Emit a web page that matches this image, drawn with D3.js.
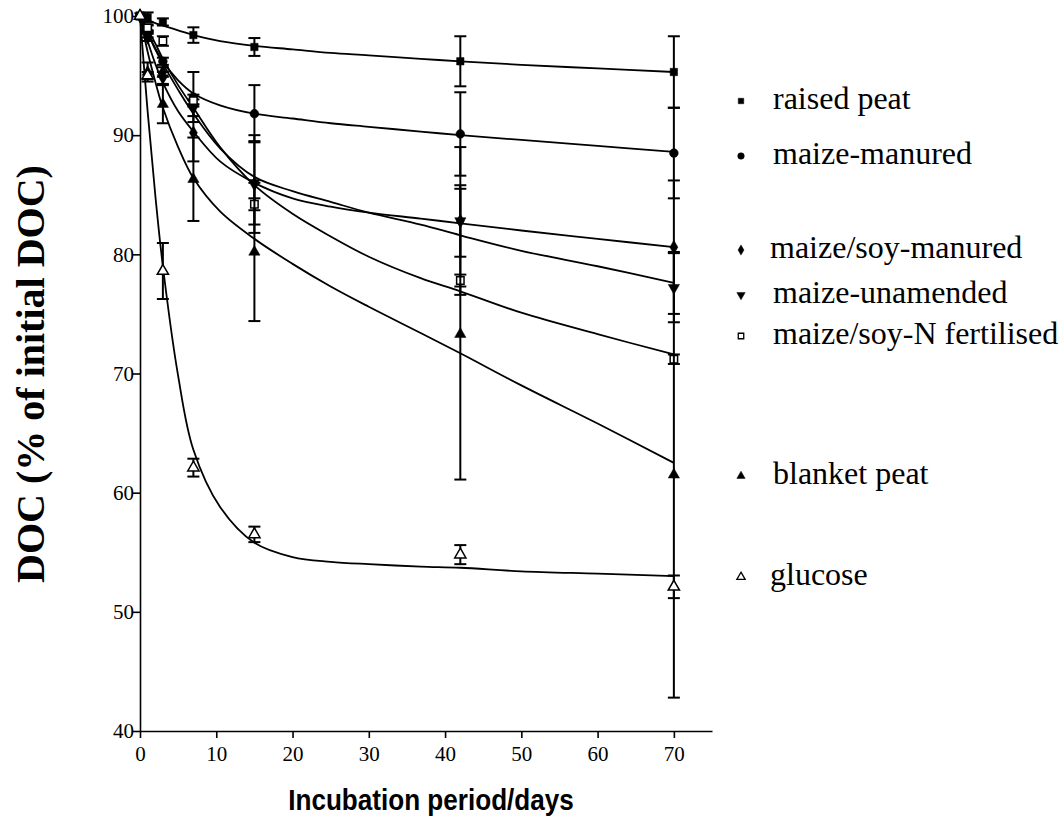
<!DOCTYPE html>
<meta charset="utf-8">
<html>
<head>
<script src="https://d3js.org/d3.v7.min.js"></script>
<style>
  body { margin: 0; background: #fff; }
  text { fill: #000; }
  .serif { font-family: "Liberation Serif", "Times New Roman", Times, serif; }
  .sans { font-family: "Liberation Sans", Arial, Helvetica, sans-serif; }
</style>
</head>
<body>
<svg id="chart" width="1064" height="826"></svg>
<script>
// sampling days
var days = [0, 1, 3, 7, 15, 42, 70];

// measured DOC (% of initial) and error (+/-) per soil
var raisedPeat      = [100, 99.9, 99.5, 98.4, 97.4, 96.2, 95.3];
var raisedPeatErr   = [0, 0.4, 0.3, 0.65, 0.75, 2.1, 3.0];
var maizeManured    = [100, 98.9, 96.2, 93.2, 91.8, 90.1, 88.5];
var maizeManuredErr = [0, 0.3, 0.3, 2.1, 2.4, 3.5, 3.8];
var soyManured      = [100, 98.2, 95.3, 90.2, 85.9, 82.8, 80.6];
var soyManuredErr   = [0, 0.3, 0.4, 2.4, 4.1, 3.0, 5.6];
var maizeUnamended  = [100, 98.5, 94.8, 92.3, 86.0, 82.8, 77.2];
var maizeUnamendedErr = [0, 0.3, 0.5, 0.7, 3.5, 6.2, 2.9];
var soyNFert        = [100, 99.0, 97.9, 92.9, 84.2, 77.8, 71.2];
var soyNFertErr     = [0, 0.3, 0.4, 0.5, 0.5, 0.5, 0.4];
var blanketPeat     = [100, 95.3, 92.6, 86.3, 80.2, 73.3, 61.5];
var blanketPeatErr  = [0, 0.8, 1.6, 3.5, 5.8, 12.2, 18.7];
var glucose         = [100, 95.0, 78.6, 62.1, 56.5, 54.8, 52.1];
var glucoseErr      = [0, 0.3, 2.35, 0.75, 0.65, 0.8, 0.95];

// fitted curves
var fitDays = [0, 1, 2, 3, 5, 7, 10.5, 15, 20, 25, 30, 36.8, 42, 50, 60, 70];
var raisedPeatFit     = [100, 99.7, 99.4, 99.2, 98.8, 98.4, 97.9, 97.5, 97.2, 96.9, 96.7, 96.4, 96.2, 95.9, 95.6, 95.3];
var maizeManuredFit   = [100, 98.6, 97.3, 96.2, 94.6, 93.5, 92.5, 91.8, 91.4, 91.0, 90.7, 90.3, 90.0, 89.6, 89.1, 88.6];
var soyManuredFit     = [100, 97.9, 96.0, 94.4, 92.0, 90.3, 87.8, 86.0, 84.7, 84.0, 83.5, 83.0, 82.6, 82.0, 81.3, 80.6];
var maizeUnamendedFit = [100, 98.6, 97.2, 96.0, 93.8, 91.8, 88.9, 86.5, 85.3, 84.4, 83.5, 82.5, 81.6, 80.3, 79.0, 77.6];
var soyNFertFit       = [100, 98.9, 97.7, 96.4, 94.2, 92.3, 89.0, 85.8, 83.4, 81.5, 79.8, 78.0, 76.9, 75.1, 73.3, 71.6];
var blanketPeatFit    = [100, 97.0, 94.5, 92.3, 89.0, 86.4, 83.6, 81.3, 79.2, 77.3, 75.6, 73.4, 71.7, 69.0, 65.8, 62.5];
var glucoseFit        = [100, 92.0, 85.0, 79.0, 69.8, 63.6, 58.8, 55.8, 54.6, 54.2, 54.0, 53.8, 53.7, 53.4, 53.2, 53.0];

var seriesNames = ["raised peat", "maize-manured", "maize/soy-manured", "maize-unamended",
                   "maize/soy-N fertilised", "blanket peat", "glucose"];
var xTicks = [0, 10, 20, 30, 40, 50, 60, 70];
var yTicks = [40, 50, 60, 70, 80, 90, 100];

var series = [
  {name: seriesNames[0], y: raisedPeat, e: raisedPeatErr, fit: raisedPeatFit, sym: "square", fill: true, legY: 101},
  {name: seriesNames[1], y: maizeManured, e: maizeManuredErr, fit: maizeManuredFit, sym: "circle", fill: true, legY: 156},
  {name: seriesNames[2], y: soyManured, e: soyManuredErr, fit: soyManuredFit, sym: "diamond", fill: true, legY: 250},
  {name: seriesNames[3], y: maizeUnamended, e: maizeUnamendedErr, fit: maizeUnamendedFit, sym: "down", fill: true, legY: 295},
  {name: seriesNames[4], y: soyNFert, e: soyNFertErr, fit: soyNFertFit, sym: "square", fill: false, legY: 336},
  {name: seriesNames[5], y: blanketPeat, e: blanketPeatErr, fit: blanketPeatFit, sym: "up", fill: true, legY: 476},
  {name: seriesNames[6], y: glucose, e: glucoseErr, fit: glucoseFit, sym: "up", fill: false, legY: 577}
];

var svg = d3.select("#chart");
var x = d3.scaleLinear().domain([0, 75]).range([140, 712]);
var y = d3.scaleLinear().domain([40, 100]).range([731, 16]);

function symPath(s, size) {
  var t = {square: d3.symbolSquare, circle: d3.symbolCircle, diamond: d3.symbolDiamond,
           up: d3.symbolTriangle, down: d3.symbolTriangle}[s];
  return d3.symbol().type(t).size(size)();
}
function placeSym(sel, s, cx, cy) {
  sel.attr("transform", "translate(" + cx + "," + cy + ")" + (s == "down" ? " rotate(180)" : ""));
}

// axes
var xAxis = svg.append("g").attr("transform", "translate(0," + y(40) + ")")
  .call(d3.axisBottom(x).tickValues(xTicks).tickSize(7).tickSizeOuter(0));
var yAxis = svg.append("g").attr("transform", "translate(" + x(0) + ",0)")
  .call(d3.axisLeft(y).tickValues(yTicks).tickSize(7).tickSizeOuter(0));
[xAxis, yAxis].forEach(function(a) {
  a.attr("font-family", null).attr("font-size", null);
  a.select(".domain").attr("stroke-width", 1.6);
  a.selectAll(".tick line").attr("stroke-width", 1.6);
  a.selectAll("text").attr("class", "serif").style("font-size", "21px").attr("fill", "#000");
});
xAxis.selectAll("text").attr("dy", "0.95em");
yAxis.selectAll("text").attr("x", -6).attr("dx", 0);

// fitted curves
var line = d3.line().x(function(d) { return x(d[0]); }).y(function(d) { return y(d[1]); })
  .curve(d3.curveCatmullRom.alpha(0.5));
series.forEach(function(s) {
  svg.append("path")
    .attr("d", line(fitDays.map(function(dd, i) { return [dd, s.fit[i]]; })))
    .attr("fill", "none").attr("stroke", "#000").attr("stroke-width", 1.8);
});

// error bars and markers
series.forEach(function(s) {
  var g = svg.append("g");
  days.forEach(function(dd, i) {
    if (s.e[i] <= 0) return;
    var cx = x(dd), y1 = y(s.y[i] + s.e[i]), y2 = y(s.y[i] - s.e[i]);
    g.append("line").attr("x1", cx).attr("x2", cx).attr("y1", y1).attr("y2", y2)
      .attr("stroke", "#000").attr("stroke-width", 2);
    [y1, y2].forEach(function(yy) {
      g.append("line").attr("x1", cx - 6).attr("x2", cx + 6).attr("y1", yy).attr("y2", yy)
        .attr("stroke", "#000").attr("stroke-width", 2);
    });
  });
  days.forEach(function(dd, i) {
    var p = g.append("path").attr("d", symPath(s.sym, s.sym == "circle" ? 60 : 55))
      .attr("fill", s.fill ? "#000" : "#fff").attr("stroke", "#000").attr("stroke-width", s.fill ? 0.5 : 1.5);
    placeSym(p, s.sym, x(dd), y(s.y[i]));
  });
});

// legend
series.forEach(function(s, i) {
  var p = svg.append("path").attr("d", symPath(s.sym, s.sym == "circle" ? 34 : 30))
    .attr("fill", s.fill ? "#000" : "#fff").attr("stroke", "#000").attr("stroke-width", s.fill ? 0.5 : 1.3);
  placeSym(p, s.sym, 741, s.legY);
  svg.append("text").attr("class", "serif").attr("x", (i == 2 || i == 6) ? 770 : 773).attr("y", s.legY + 8)
    .style("font-size", "32px").text(s.name);
});

// axis titles
svg.append("text").attr("class", "sans").attr("transform", "translate(431,810) scale(0.9,1)")
  .attr("text-anchor", "middle")
  .style("font-weight", "bold").style("font-size", "29px")
  .text("Incubation period/days");
svg.append("text").attr("class", "serif").attr("transform", "translate(44,374) rotate(-90)")
  .attr("text-anchor", "middle").style("font-weight", "bold").style("font-size", "40px")
  .text("DOC (% of initial DOC)");
</script>
</body>
</html>
